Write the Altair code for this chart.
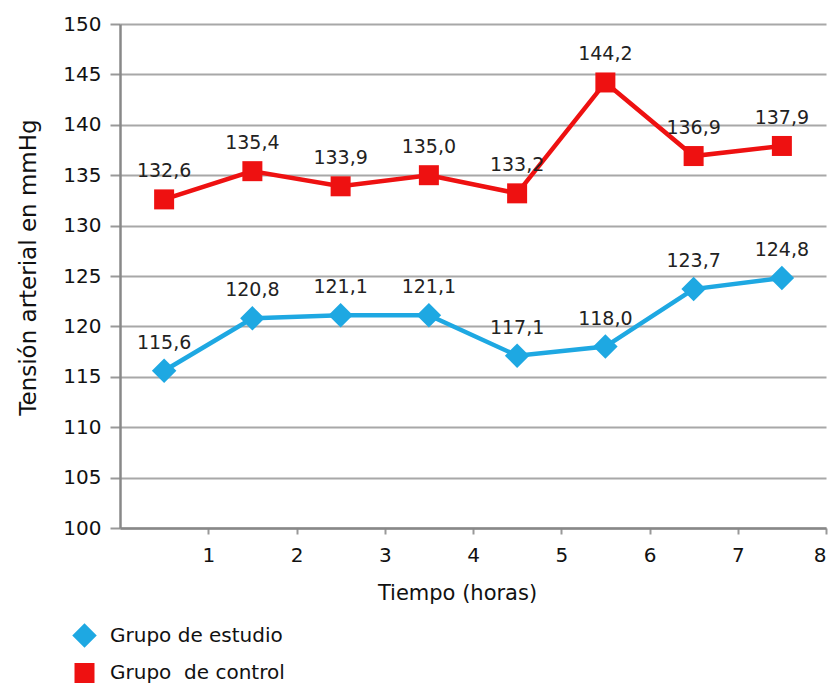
import altair as alt
import pandas as pd

horas = [0.5, 1.5, 2.5, 3.5, 4.5, 5.5, 6.5, 7.5]
estudio = [115.6, 120.8, 121.1, 121.1, 117.1, 118.0, 123.7, 124.8]
control = [132.6, 135.4, 133.9, 135.0, 133.2, 144.2, 136.9, 137.9]
grupos = ["Grupo de estudio", "Grupo\u00a0 de control"]
colores = ["#1ea8e2", "#ee1111"]
formas = ["diamond", "square"]
tamanos = [600, 400]

rows = []
for g, vals in zip(grupos, [estudio, control]):
    for h, v in zip(horas, vals):
        rows.append({"hora": h, "valor": v, "grupo": g,
                     "etiqueta": f"{v:.1f}".replace(".", ",")})
df = pd.DataFrame(rows)

FONT = "DejaVu Sans"
FS = 19

x = alt.X("hora:Q", title="Tiempo (horas)",
          scale=alt.Scale(domain=[0, 8], nice=False, zero=False),
          axis=alt.Axis(values=[1, 2, 3, 4, 5, 6, 7, 8], grid=False,
                        tickSize=6, tickColor="#999", tickWidth=2,
                        domainColor="#888", domainWidth=2.5,
                        labelFontSize=20, labelColor="#111", labelPadding=11,
                        titleFontSize=21, titleFontWeight="normal",
                        titleColor="#111", titlePadding=17, titleX=337))
y = alt.Y("valor:Q", title="Tensión arterial en mmHg",
          scale=alt.Scale(domain=[100, 150], nice=False, zero=False),
          axis=alt.Axis(values=list(range(100, 151, 5)), grid=True,
                        gridColor="#a8a8a8", gridWidth=2,
                        tickSize=10, tickColor="#999", tickWidth=2,
                        domainColor="#888", domainWidth=2.5,
                        labelFontSize=20, labelColor="#111", labelPadding=9,
                        titleFontSize=23, titleFontWeight="normal",
                        titleColor="#111", titlePadding=22, titleY=243))

leg = alt.Legend(title=None, orient="none", legendX=-48, legendY=599,
                 labelFontSize=20, labelColor="#111", labelFont=FONT,
                 labelLimit=400, rowPadding=15, labelOffset=13,
                 symbolStrokeWidth=0)
color = alt.Color("grupo:N", scale=alt.Scale(domain=grupos, range=colores),
                  legend=leg)
shape = alt.Shape("grupo:N", scale=alt.Scale(domain=grupos, range=formas),
                  legend=leg)
size = alt.Size("grupo:N", scale=alt.Scale(domain=grupos, range=tamanos),
                legend=leg)

base = alt.Chart(df)
lines = base.mark_line(strokeWidth=4.5).encode(
    x=x, y=y, color=color, detail="grupo:N")
points = base.mark_point(filled=True, opacity=1).encode(
    x=x, y=y, color=color, shape=shape, size=size)
labels = base.mark_text(dy=-28, fontSize=FS, color="#222", font=FONT).encode(
    x=x, y=y, text="etiqueta:N")

chart = alt.layer(lines, points, labels).properties(
    width=706, height=504,
    autosize=alt.AutoSizeParams(type="none"),
    padding={"left": 112, "top": 16, "right": 5, "bottom": 162}
).configure(font=FONT).configure_view(stroke=None)

chart.save("out.html", embed_options={"renderer": "svg", "actions": False})
